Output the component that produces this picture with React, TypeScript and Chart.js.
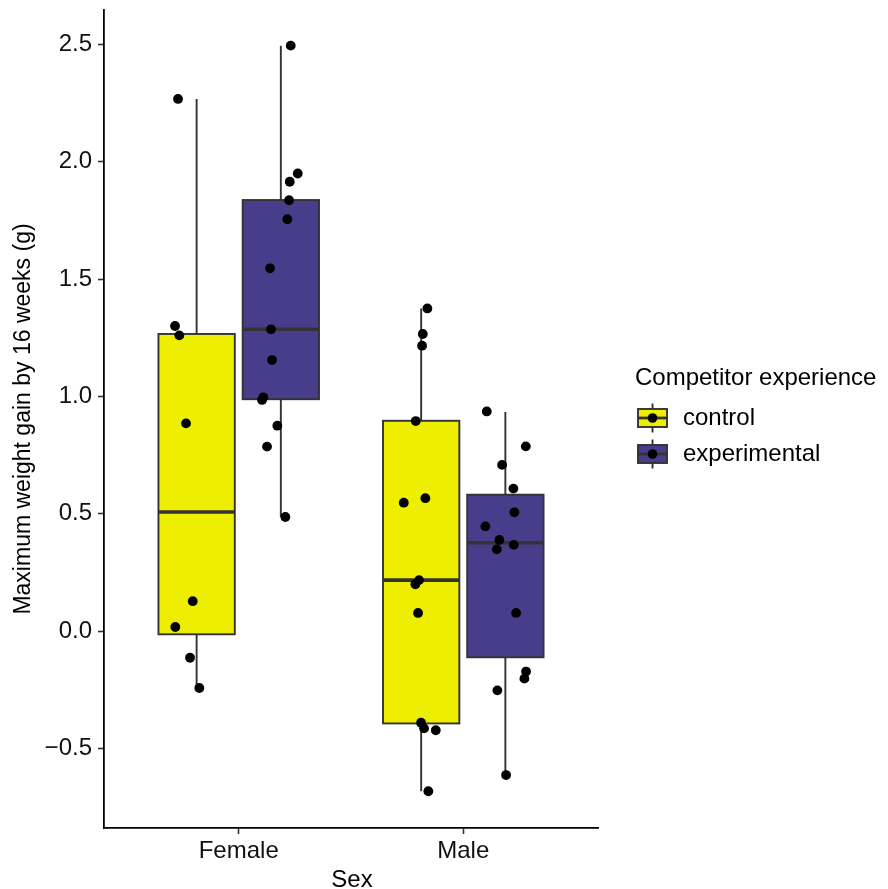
import React, { useEffect, useRef } from "react";
import { Chart, registerables } from "chart.js";

Chart.register(...registerables);

// ---------- data ----------
const categories = ["Female", "Male"];
const groupNames = ["control", "experimental"];
const yTickValues = [-0.5, 0, 0.5, 1.0, 1.5, 2.0, 2.5];

// boxes: Female-control, Female-experimental, Male-control, Male-experimental
const boxCenters = [0.8125, 1.1875, 1.8125, 2.1875];
const boxGroup = [0, 1, 0, 1];
const boxMin = [-0.243, 0.486, -0.683, -0.614];
const boxQ1 = [-0.014, 0.988, -0.394, -0.112];
const boxMedian = [0.507, 1.286, 0.217, 0.376];
const boxQ3 = [1.266, 1.837, 0.896, 0.581];
const boxMax = [2.268, 2.495, 1.375, 0.934];

// jittered observations
const femaleControlX = [0.7296, 0.7163, 0.7354, 0.7653, 0.7951, 0.7176, 0.7831, 0.8245];
const femaleControlY = [2.268, 1.3, 1.26, 0.885, 0.127, 0.017, -0.114, -0.243];

const femaleExpX = [1.2316, 1.2628, 1.2272, 1.2241, 1.2165, 1.1394, 1.1439, 1.1483, 1.1096, 1.1038, 1.1719, 1.1261, 1.2076];
const femaleExpY = [2.495, 1.95, 1.915, 1.836, 1.755, 1.546, 1.286, 1.155, 0.996, 0.985, 0.875, 0.786, 0.486];

const maleControlX = [1.8401, 1.8196, 1.8165, 1.7884, 1.735, 1.8312, 1.8031, 1.7866, 1.7987, 1.812, 1.8254, 1.8775, 1.8445];
const maleControlY = [1.375, 1.266, 1.216, 0.895, 0.547, 0.566, 0.217, 0.199, 0.077, -0.391, -0.415, -0.423, -0.683];

const maleExpX = [2.1047, 2.2784, 2.1728, 2.2232, 2.2276, 2.0984, 2.1608, 2.2249, 2.1492, 2.2352, 2.2797, 2.2722, 2.1519, 2.1906];
const maleExpY = [0.936, 0.787, 0.708, 0.607, 0.506, 0.446, 0.388, 0.367, 0.348, 0.077, -0.173, -0.203, -0.253, -0.614];

// ---------- styles ----------
const groupColors = ["#EEEE00", "#483D8B"];
const BOX_WIDTH = 0.34;
const FONT = "'Liberation Sans', Arial, Helvetica, sans-serif";
const LINE = "#333333";

const toPoints = (xs: number[], ys: number[]) => xs.map((x, i) => ({ x, y: ys[i] }));

const boxPlugin = {
  id: "boxes",
  beforeDatasetsDraw(chart: any) {
    const { ctx, scales } = chart;
    const xs = scales.x;
    const ys = scales.y;
    ctx.save();
    for (let i = 0; i < boxCenters.length; i++) {
      const c = boxCenters[i];
      const cx = xs.getPixelForValue(c);
      const l = xs.getPixelForValue(c - BOX_WIDTH / 2);
      const r = xs.getPixelForValue(c + BOX_WIDTH / 2);
      const yMin = ys.getPixelForValue(boxMin[i]);
      const yQ1 = ys.getPixelForValue(boxQ1[i]);
      const yMed = ys.getPixelForValue(boxMedian[i]);
      const yQ3 = ys.getPixelForValue(boxQ3[i]);
      const yMax = ys.getPixelForValue(boxMax[i]);
      ctx.strokeStyle = LINE;
      ctx.lineWidth = 1.9;
      ctx.beginPath();
      ctx.moveTo(cx, yQ3);
      ctx.lineTo(cx, yMax);
      ctx.moveTo(cx, yQ1);
      ctx.lineTo(cx, yMin);
      ctx.stroke();
      ctx.fillStyle = groupColors[boxGroup[i]];
      ctx.fillRect(l, yQ3, r - l, yQ1 - yQ3);
      ctx.strokeRect(l, yQ3, r - l, yQ1 - yQ3);
      ctx.lineWidth = 3.6;
      ctx.beginPath();
      ctx.moveTo(l, yMed);
      ctx.lineTo(r, yMed);
      ctx.stroke();
    }
    ctx.restore();
  },
  afterDraw(chart: any) {
    const { ctx, chartArea } = chart;
    ctx.save();
    ctx.fillStyle = "#000";
    ctx.textBaseline = "middle";
    // axis titles
    ctx.font = `24px ${FONT}`;
    ctx.textAlign = "center";
    ctx.fillText("Sex", (chartArea.left + chartArea.right) / 2 + 1, 880);
    ctx.save();
    ctx.translate(24, (chartArea.top + chartArea.bottom) / 2);
    ctx.rotate(-Math.PI / 2);
    ctx.font = `23px ${FONT}`;
    ctx.fillText("Maximum weight gain by 16 weeks (g)", 0, 0);
    ctx.restore();
    // legend
    ctx.textAlign = "left";
    ctx.font = `24px ${FONT}`;
    ctx.fillText("Competitor experience", 635, 378);
    const keyCenters = [418, 454];
    for (let g = 0; g < groupNames.length; g++) {
      const cy = keyCenters[g];
      const kx = 638, kw = 29;
      const cx = kx + kw / 2;
      ctx.strokeStyle = LINE;
      ctx.lineWidth = 1.9;
      ctx.beginPath();
      ctx.moveTo(cx, cy - 14.5);
      ctx.lineTo(cx, cy + 14.5);
      ctx.stroke();
      ctx.fillStyle = groupColors[g];
      ctx.fillRect(kx, cy - 9, kw, 18);
      ctx.strokeRect(kx, cy - 9, kw, 18);
      ctx.lineWidth = 2.8;
      ctx.beginPath();
      ctx.moveTo(kx, cy);
      ctx.lineTo(kx + kw, cy);
      ctx.stroke();
      ctx.fillStyle = "#000";
      ctx.beginPath();
      ctx.arc(cx, cy, 4.8, 0, Math.PI * 2);
      ctx.fill();
      ctx.fillText(groupNames[g], 683, cy);
    }
    ctx.restore();
  },
};

export default function App() {
  const ref = useRef<HTMLCanvasElement | null>(null);
  useEffect(() => {
    if (!ref.current) return;
    const pointStyle = {
      backgroundColor: "#000",
      borderWidth: 0,
      pointRadius: 4.9,
      pointHoverRadius: 4.9,
    };
    const chart = new Chart(ref.current, {
      type: "scatter",
      data: {
        datasets: [
          { label: "Female control", data: toPoints(femaleControlX, femaleControlY), ...pointStyle },
          { label: "Female experimental", data: toPoints(femaleExpX, femaleExpY), ...pointStyle },
          { label: "Male control", data: toPoints(maleControlX, maleControlY), ...pointStyle },
          { label: "Male experimental", data: toPoints(maleExpX, maleExpY), ...pointStyle },
        ],
      },
      options: {
        responsive: false,
        animation: false,
        devicePixelRatio: 1,
        layout: { padding: { left: 0, top: 10, right: 290, bottom: 0 } },
        plugins: { legend: { display: false }, tooltip: { enabled: false } },
        scales: {
          x: {
            type: "linear",
            min: 0.4,
            max: 2.6,
            afterBuildTicks: (s: any) => {
              s.ticks = categories.map((_, i) => ({ value: i + 1 }));
            },
            afterFit: (s: any) => {
              s.height = 61;
              s.paddingLeft = 0;
              s.paddingRight = 0;
            },
            ticks: {
              callback: (v: any) => categories[Math.round(Number(v)) - 1] ?? "",
              font: { size: 24, family: FONT },
              color: "#111",
              padding: 3,
              maxRotation: 0,
            },
            grid: { drawOnChartArea: false, drawTicks: true, tickLength: 6, tickColor: LINE, tickWidth: 1.6 },
            border: { display: true, color: "#000", width: 1.8 },
          },
          y: {
            type: "linear",
            min: -0.8397,
            max: 2.647,
            afterBuildTicks: (s: any) => {
              s.ticks = yTickValues.map((v) => ({ value: v }));
            },
            afterFit: (s: any) => {
              s.width = 104;
              s.paddingTop = 0;
              s.paddingBottom = 0;
            },
            ticks: {
              callback: (v: any) => {
                const n = Number(v);
                return n < 0 ? "\u2212" + Math.abs(n).toFixed(1) : n.toFixed(1);
              },
              font: { size: 24, family: FONT },
              color: "#111",
              padding: 6,
            },
            grid: { drawOnChartArea: false, drawTicks: true, tickLength: 6, tickColor: LINE, tickWidth: 1.6 },
            border: { display: true, color: "#000", width: 1.8 },
          },
        },
      },
      plugins: [boxPlugin],
    } as any);
    return () => chart.destroy();
  }, []);
  return (
    <div style={{ position: "absolute", left: 0, top: 0, width: 888, height: 889, background: "#fff" }}>
      <canvas ref={ref} width={888} height={889} style={{ display: "block" }} />
    </div>
  );
}
